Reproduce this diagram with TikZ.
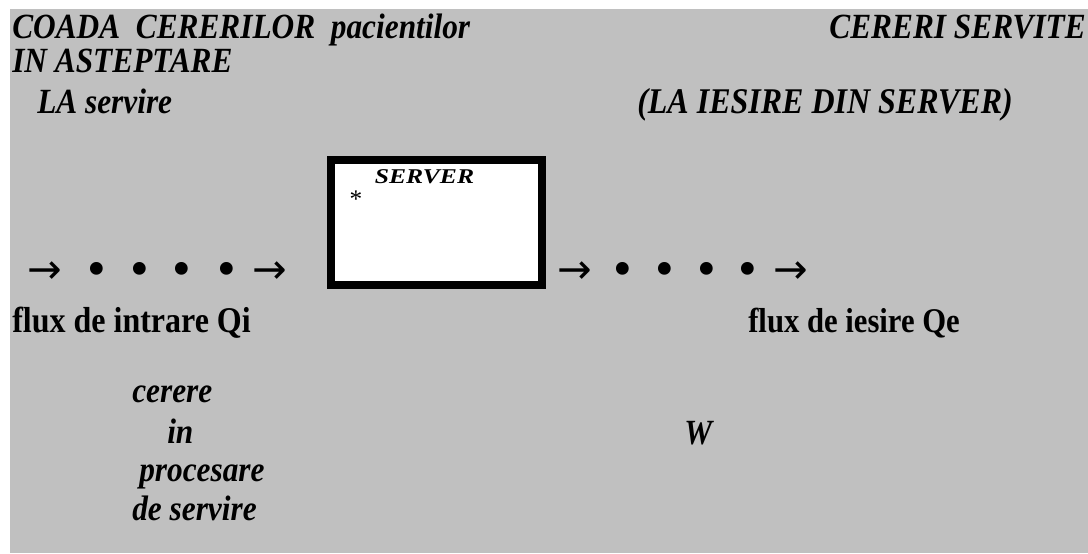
\documentclass[tikz,border=0pt]{standalone}
\usepackage{fontspec}
\setmainfont{Liberation Serif}
\newfontfamily\symfont{DejaVu Sans}
\definecolor{bggray}{HTML}{C0C0C0}
\newcommand{\vstr}[1]{\scalebox{1}[1.13]{#1}}
\begin{document}
\begin{tikzpicture}[x=0.75pt,y=-0.75pt,
  lbl/.style={inner sep=0pt, anchor=base west, font=\fontsize{23.5}{28}\selectfont\bfseries\itshape},
  flx/.style={inner sep=0pt, anchor=base west, font=\fontsize{24}{28}\selectfont\bfseries},
  arr/.style={inner sep=0pt, anchor=center, font=\symfont\fontsize{31}{34}\selectfont},
  dotm/.style={inner sep=0pt, anchor=center, font=\fontsize{40}{44}\selectfont},
  srvbox/.style={draw=black, line width=6pt, fill=white, minimum width=158.25pt, minimum height=93.75pt, inner sep=0pt}]
\useasboundingbox (0,0) rectangle (1088,553);
\fill[white] (0,0) rectangle (1088,553);
\fill[bggray] (10,9) rectangle (1088,553);
% titles
\node[lbl] (t1) at (12,38) {\vstr{COADA\ \ CERERILOR\ \ pacientilor}};
\node[lbl] (t2) at (12,72) {\vstr{IN ASTEPTARE}};
\node[lbl] (t3) at (37,113) {\vstr{LA servire}};
\node[lbl, anchor=base east] (t4) at (1086,38) {\vstr{CERERI SERVITE}};
\node[lbl, font=\fontsize{24}{28}\selectfont\bfseries\itshape] (t5) at (637,113) {\vstr{(LA IESIRE DIN SERVER)}};
% server
\node[srvbox] (server) at (436.5,222.5) {};
\node[inner sep=0pt, anchor=base, font=\fontsize{15}{16}\selectfont\bfseries\itshape] (srvlbl) at (424.5,183) {\scalebox{1.28}[1.05]{SERVER}};
\node[inner sep=0pt, anchor=center, font=\fontsize{19}{20}\selectfont] (star) at (356,199) {*};
% input row
\node[arr] (ia1) at (44.5,273) {→};
\node[dotm] (id1) at (97,274) {•};
\node[dotm] (id2) at (140,274) {•};
\node[dotm] (id3) at (182,274) {•};
\node[dotm] (id4) at (227,274) {•};
\node[arr] (ia2) at (270,273) {→};
% output row
\node[arr] (oa1) at (575,273) {→};
\node[dotm] (od1) at (623,274) {•};
\node[dotm] (od2) at (665,274) {•};
\node[dotm] (od3) at (707,274) {•};
\node[dotm] (od4) at (748,274) {•};
\node[arr] (oa2) at (790.5,273) {→};
% flux labels
\node[flx] (fin) at (12,332) {\vstr{flux de intrare Qi}};
\node[flx, font=\fontsize{23}{28}\selectfont\bfseries] (fout) at (748,332) {\vstr{flux de iesire Qe}};
% bottom labels
\node[lbl] (b1) at (132,402) {\vstr{cerere}};
\node[lbl] (b2) at (167,443) {\vstr{in}};
\node[lbl] (b3) at (139,481) {\vstr{procesare}};
\node[lbl] (b4) at (132,520) {\vstr{de servire}};
\node[lbl] (w) at (684,444) {\vstr{W}};
\end{tikzpicture}
\end{document}
